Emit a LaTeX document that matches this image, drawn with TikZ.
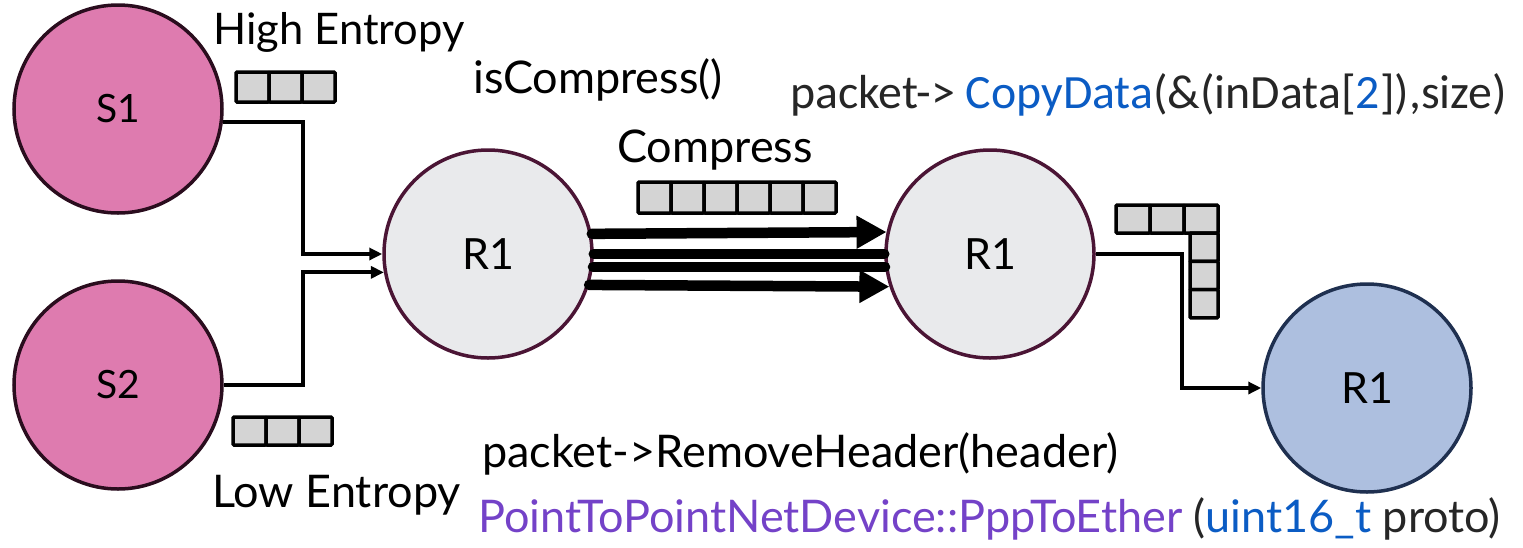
\documentclass[tikz,border=0pt]{standalone}
\usepackage{fontspec}
\setmainfont{Lato}
\newfontfamily\codefont{Carlito}
\usetikzlibrary{arrows.meta}

\definecolor{srcfill}{HTML}{DE7BAF}
\definecolor{srcline}{HTML}{2A0D1E}
\definecolor{rtfill}{HTML}{E9EAEC}
\definecolor{rtline}{HTML}{4B1535}
\definecolor{dstfill}{HTML}{ADBFDF}
\definecolor{dstline}{HTML}{1F3050}
\definecolor{cellfill}{HTML}{D4D4D4}
\definecolor{codegray}{HTML}{262626}
\definecolor{codeblue}{HTML}{0B5CC4}
\definecolor{codepurple}{HTML}{7442C8}

\begin{document}
\begin{tikzpicture}[x=1pt,y=-1pt,
  host/.style={circle, line width=3.5pt, minimum size=208pt, inner sep=0pt},
  src/.style={host, fill=srcfill, draw=srcline, font=\fontsize{39}{44}\selectfont},
  router/.style={host, fill=rtfill, draw=rtline, font=\fontsize{43}{48}\selectfont},
  dst/.style={host, fill=dstfill, draw=dstline, font=\fontsize{43}{48}\selectfont},
  conn/.style={line width=4pt, -{Triangle[length=13pt,width=12pt]}},
  trunk/.style={line width=10.5pt, line cap=round},
  trunkarrow/.style={trunk, -{Triangle[length=30pt,width=31pt]}},
  cell/.style={fill=cellfill, draw=black, line width=3.5pt, rounded corners=1pt},
  label/.style={anchor=base west, inner sep=0pt, font=\fontsize{45}{50}\selectfont},
  code/.style={anchor=base west, inner sep=0pt, font=\codefont\fontsize{47.8}{54}\selectfont, text=codegray},
]

\useasboundingbox (0,0) rectangle (1523,547);

% hosts and routers
\node[src] (S1) at (118,109) {S1};
\node[src] (S2) at (118,385) {S2};
\node[router] (Ra) at (488,254) {R1};
\node[router] (Rb) at (990,254) {R1};
\node[dst] (Rc) at (1367,388) {R1};

% bend columns of the elbow connectors
\coordinate (bendL) at (303,0);
\coordinate (bendR) at (1182,0);

% sources into the first router
\draw[conn] (S1.-7) -- (bendL |- S1.-7) |- (Ra.west);
\draw[conn] (S2.east) -- (bendL |- S2.east) |- (Ra.190);

% compressed trunk between the routers
\draw[trunkarrow] (Ra.11.5) -- (Rb.168.5);
\draw[trunk] (Ra.east) -- (Rb.west);
\draw[trunk] (Ra.-7) -- (Rb.-173);
\draw[trunkarrow] (Ra.-17.7) -- (Rb.-162.3);

% second router to the receiver
\draw[conn] (Rb.east) -- (bendR |- Rb.east) |- (Rc.west);

% packets
\foreach \i in {0,1,2} \draw[cell] (236+33*\i,72) rectangle ++(33,30);
\foreach \i in {0,1,2} \draw[cell] (233+33*\i,417) rectangle ++(33,28);
\foreach \i in {0,...,5} \draw[cell] (638+33*\i,182) rectangle ++(33,31);
\foreach \i in {0,1,2} \draw[cell] (1116+34*\i,205) rectangle ++(34,28);
\foreach \i in {0,1,2} \draw[cell] (1190,233+28.3*\i) rectangle ++(28,28.3);

% labels
\node[label, font=\fontsize{43.5}{50}\selectfont] (hi) at (213,44) {High Entropy};
\node[label] (lo) at (212,507) {Low Entropy};
\node[label] (isc) at (473,93) {isCompress()};
\node[label] (cmp) at (617,162) {Compress};
\node[code] (cpy) at (790,108) {packet-> \textcolor{codeblue}{CopyData}(\&(inData[\textcolor{codeblue}{2}]),size)};
\node[label] (rm) at (482,467) {packet->RemoveHeader(header)};
\node[label] (p2p) at (478,532) {\textcolor{codepurple}{PointToPointNetDevice::PppToEther} \textcolor{codegray}{(}\textcolor{codeblue}{uint16\_t} \textcolor{codegray}{proto)}};

\end{tikzpicture}
\end{document}
